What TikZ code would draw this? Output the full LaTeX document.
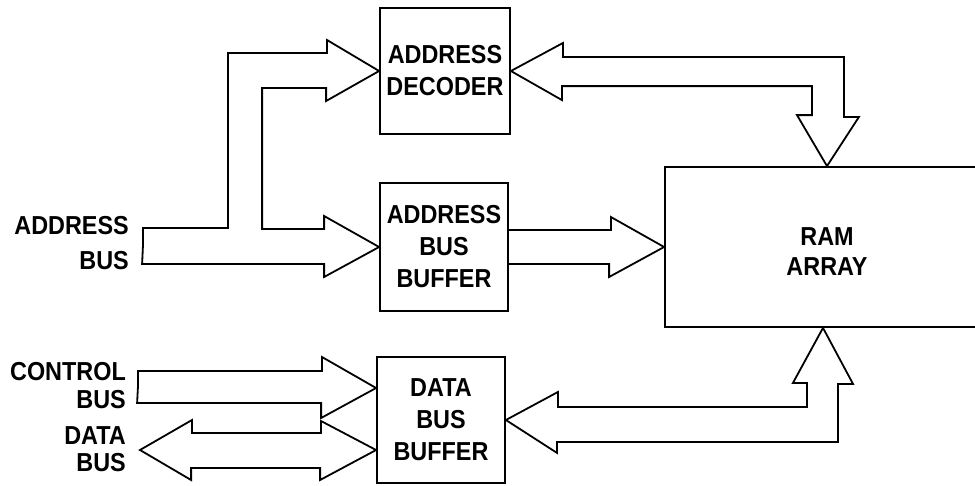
\documentclass[tikz,border=0pt]{standalone}
\usepackage{fontspec}
\setmainfont{Liberation Sans}[FakeStretch=0.9]
\usetikzlibrary{calc}
\begin{document}
\begin{tikzpicture}[x=1pt,y=-1pt,
	busarrow/.style={line width=1.8pt,line join=miter},
	block/.style={draw,line width=1.8pt,align=center,inner sep=0pt,
		font=\fontsize{26}{32}\selectfont\bfseries},
	lbl/.style={align=right,inner sep=0pt,
		font=\fontsize{26}{32}\selectfont\bfseries}]
	\useasboundingbox (0,0) rectangle (975,485);
	%\draw[line width=0.2pt] (0,0) grid[step=50] (975,485);
	\node[block,minimum width=130,minimum height=126] (dec) at (445,71) {ADDRESS\\DECODER};
	\node[block,minimum width=128,minimum height=128] (abuf) at (444,247) {ADDRESS\\BUS\\BUFFER};
	\node[block,minimum width=128,minimum height=126] (dbuf) at (441,420) {DATA\\BUS\\BUFFER};
	\node[block,minimum width=324,minimum height=160] (ram) at (827,247) {\rule{0pt}{27pt}RAM\\[-2pt]ARRAY};
	\node[lbl,anchor=east] (alab) at (129,243) {ADDRESS\\[3pt]BUS};
	\node[lbl,anchor=east] (clab) at (126,386) {CONTROL\\[-4pt]BUS};
	\node[lbl,anchor=east] (dlab) at (126,449) {DATA\\[-5pt]BUS};
	\coordinate (abin) at (143,245);
	\coordinate (cbin) at (138,386);
	\coordinate (dbin) at (140,450);
	% address bus, split to decoder and buffer
	\draw[busarrow] (abin) -- ++(0,-17) -- ++(85,0) -- ++(0,-175) -- ++(99,0) -- ++(0,-13)%
	-- (dec.west) -- ++(-53,30) -- ++(0,-13) -- ++(-64,0) -- ++(0,141) -- ++(62,0)%
	-- ++(0,-13) -- (abuf.west) -- ++(-55,30) -- ++(0,-13) -- ++(-182,0) -- cycle;
	% decoder <-> ram
	\draw[busarrow] (dec.east) -- ++(52,-28) -- ++(0,14) -- ++(281,0) -- ++(0,60) -- ++(15,0)%
	-- (ram.north) -- ++(-30,-51) -- ++(15,0) -- ++(0,-29) -- ++(-250,0) -- ++(0,14) -- cycle;
	% buffer -> ram
	\draw[busarrow] ($(abuf.east)+(0,-17)$) -- ++(102,0) -- ++(0,-13) -- (ram.west)%
	-- ++(-55,30) -- ++(0,-13) -- ($(abuf.east)+(0,17)$);
	% ram <-> data bus buffer
	\draw[busarrow] (dbuf.east) -- ++(52,-28) -- ++(0,15) -- ++(249,0) -- ++(0,-24) -- ++(-14,0)%
	-- ($(ram.south)+(-4,0)$) -- ++(30,56) -- ++(-15,0) -- ++(0,58) -- ++(-281,0) -- ++(0,11) -- cycle;
	% control bus
	\draw[busarrow] (cbin) -- ++(0,-15) -- ++(184,0) -- ++(0,-14) -- ($(dbuf.west)+(0,-32)$)%
	-- ++(-55,30) -- ++(0,-15) -- ++(-184,0) -- cycle;
	% data bus
	\draw[busarrow] (dbin) -- ++(52,-30) -- ++(0,13) -- ++(129,0) -- ++(0,-12) -- ($(dbuf.west)+(0,30)$)%
	-- ++(-56,30) -- ++(0,-12) -- ++(-129,0) -- ++(0,12) -- cycle;
\end{tikzpicture}
\end{document}
